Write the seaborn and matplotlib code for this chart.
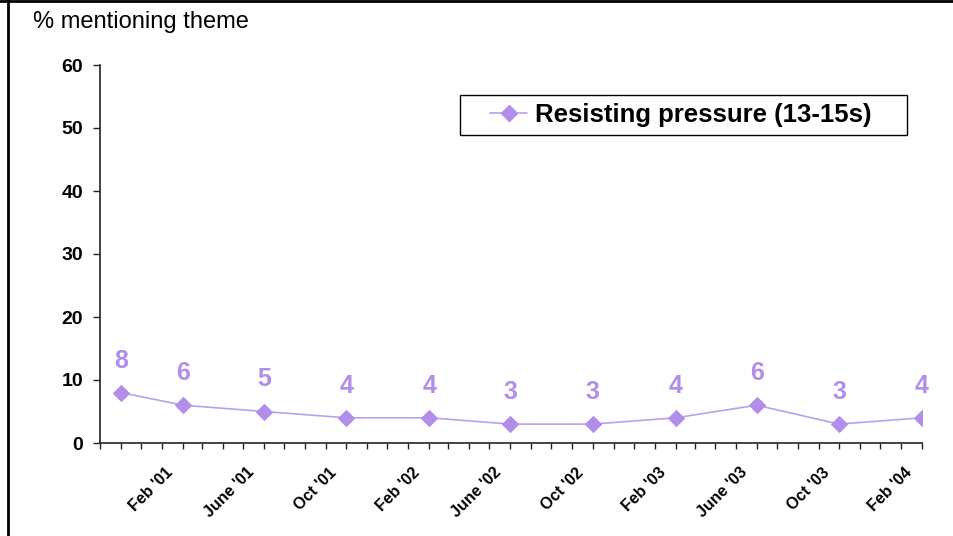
import matplotlib
matplotlib.use("Agg")
import matplotlib.pyplot as plt
import matplotlib.dates as mdates
import matplotlib.transforms as mtransforms
from matplotlib.lines import Line2D
from matplotlib.patches import Rectangle
import pandas as pd
import seaborn as sns

sns.set_style("white")
plt.rcParams["font.family"] = ["Liberation Sans", "DejaVu Sans"]
plt.rcParams["text.color"] = "black"
plt.rcParams["xtick.color"] = "black"
plt.rcParams["ytick.color"] = "black"

# Survey waves and share of respondents mentioning the theme
waves = ["2000-11", "2001-02", "2001-06", "2001-10", "2002-02", "2002-06",
         "2002-10", "2003-02", "2003-06", "2003-10", "2004-02"]
values = [8, 6, 5, 4, 4, 3, 3, 4, 6, 3, 4]
tick_labels = ["", "Feb '01", "June '01", "Oct '01", "Feb '02", "June '02",
               "Oct '02", "Feb '03", "June '03", "Oct '03", "Feb '04"]
series_name = "Resisting pressure (13-15s)"
y_ticks = [0, 10, 20, 30, 40, 50, 60]

df = pd.DataFrame({"wave": pd.to_datetime(waves), "pct": values})

purple = "#B08EEA"
line_purple = "#B9A0EE"

fig = plt.figure(figsize=(9.54, 5.36), dpi=100)
ax = fig.add_axes([100 / 954, 1 - 443 / 536, 822 / 954, 378 / 536])

sns.lineplot(data=df, x="wave", y="pct", ax=ax, color=line_purple, lw=1.2,
             marker="D", markersize=8.3, markerfacecolor=purple,
             markeredgecolor=purple, legend=False)

for d, v in zip(df["wave"], df["pct"]):
    ax.annotate(str(v), (d, v), xytext=(0, 18), textcoords="offset points",
                ha="center", va="baseline", fontsize=18, fontweight="bold",
                color=purple)

ax.set_xlim(pd.Timestamp("2000-10-01"), pd.Timestamp("2004-02-01"))
ax.set_ylim(0, 60)
ax.set_yticks(y_ticks)
ax.set_yticklabels([str(t) for t in y_ticks], fontsize=14, fontweight="bold")

ax.set_xticks(df["wave"])
ax.xaxis.set_minor_locator(mdates.MonthLocator())
ax.tick_params(axis="x", which="both", direction="out", length=4.5, width=1,
               color="#222222", bottom=True, pad=15)
ax.tick_params(axis="y", direction="out", length=5, width=1,
               color="#222222", left=True, pad=7)
ax.set_xticklabels(tick_labels, rotation=45, ha="right", va="center",
                   rotation_mode="anchor", fontsize=11.5, fontweight="bold")
# nudge the slanted month labels left so they sit under their ticks
shift = mtransforms.ScaledTranslation(-12 / 100, 0, fig.dpi_scale_trans)
for tick in ax.xaxis.get_major_ticks():
    tick.label1.set_transform(tick.label1.get_transform() + shift)

for side in ["top", "right"]:
    ax.spines[side].set_visible(False)
for side in ["left", "bottom"]:
    ax.spines[side].set_color("#222222")
    ax.spines[side].set_linewidth(1.2)

ax.set_xlabel("")
ax.set_ylabel("")

fig.text(33 / 954, 1 - 22 / 536, "% mentioning theme", fontsize=17,
         ha="left", va="center")

# legend box with the series key inside it
ax.add_patch(Rectangle((460 / 954, 1 - 135 / 536), 447 / 954, 40 / 536,
                       transform=fig.transFigure, fill=True, clip_on=False,
                       facecolor="white", edgecolor="black", lw=1.0,
                       zorder=4))
handle = Line2D([], [], color=line_purple, lw=1.2, marker="D", markersize=8.3,
                markerfacecolor=purple, markeredgecolor=purple)
leg = ax.legend([handle], [series_name], loc="center left",
                bbox_to_anchor=(490 / 954, 1 - 115 / 536),
                bbox_transform=fig.transFigure, frameon=False,
                prop={"size": 18.5, "weight": "bold"}, borderpad=0,
                handlelength=1.45, handletextpad=0.3, borderaxespad=0)
leg.set_zorder(6)

# figure frame along the left and top edges
fig.add_artist(Line2D([8 / 954, 8 / 954], [0, 1], transform=fig.transFigure,
                      color="black", lw=2))
fig.add_artist(Line2D([0, 1], [1 - 0.5 / 536, 1 - 0.5 / 536],
                      transform=fig.transFigure, color="black", lw=2))

fig.savefig("out.png", dpi=100)
